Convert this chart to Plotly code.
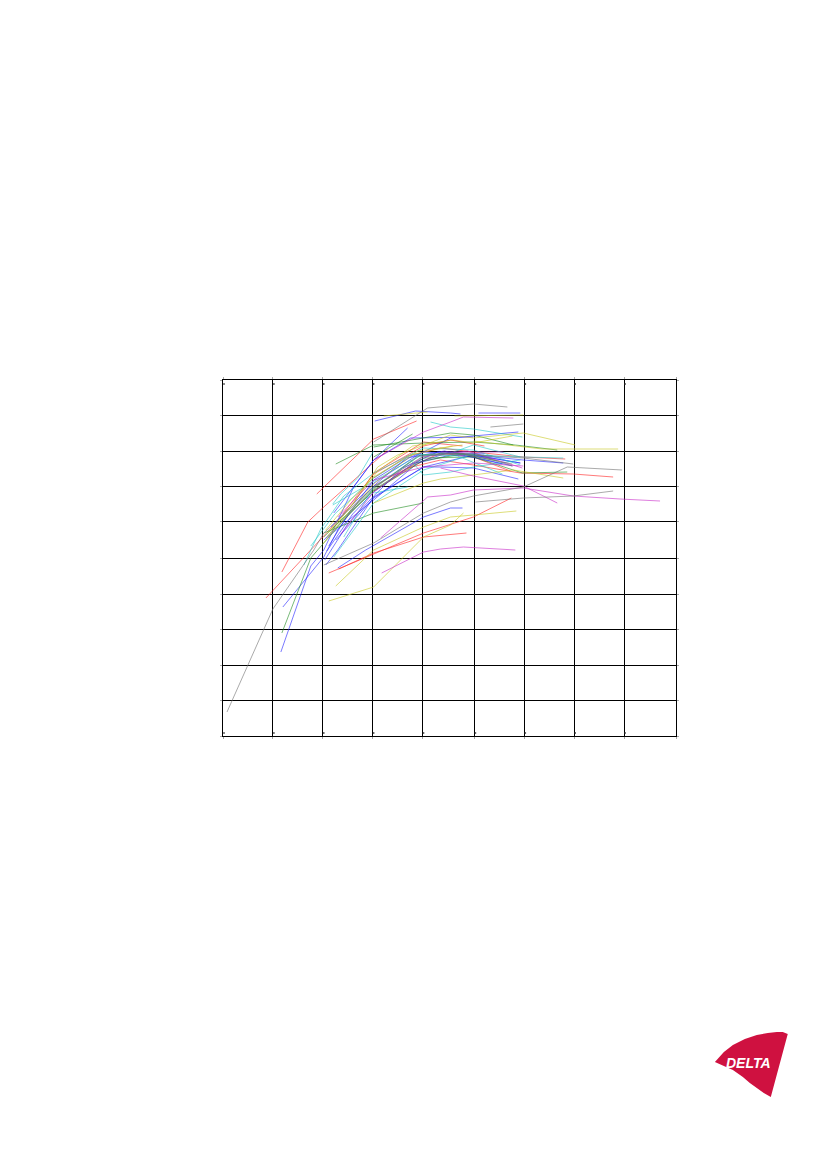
import plotly.graph_objects as go

PAGE_W, PAGE_H = 827, 1169
PAGE_INSET = 8
PLOT_L, PLOT_R, PLOT_T, PLOT_B = 222, 676, 380, 736

X_GRID = [0, 50, 100, 150, 200, 252, 302, 352, 402, 454]
Y_GRID = [0, 36, 71, 107, 142, 178, 215, 250, 285, 321, 356]

RED_X = [[94,151,194],[59,85,101,135,151,165],[43,88,101,131,151,201,240],[106,161,201,251,289],[116,151,201,244],[151,185,218,251,298,351,391],[151,185,218,251,301,343],[151,190,218,251,288],[120,151,201,228,262]]
RED_Y = [[242,297,315],[164,214,229,259,273,286],[138,186,200,233,263,294,290],[163,186,203,219,238],[167,183,199,203],[250,268,276,271,263,262,259],[258,280,288,284,279,277],[245,270,283,279,265],[222,262,290,296,290]]

BLUE_X = [[58,88,101,131,151,185],[60,101,115,151,188,201,251,298],[152,193,228,238],[256,298],[115,143,201,228,240],[103,115,151,201,251,298],[101,151,195,228,251,290],[108,151,195,228,296],[111,151,188,228,251],[113,151,201,218,251,296],[251,301,341],[104,130,151,190,228,270],[102,125,151,180,215,262],[106,128,151,184,222,280]]
BLUE_Y = [[84,170,186,249,276,308],[129,179,206,256,279,284,281,273],[315,325,323,322],[323,323],[168,186,219,228,228],[171,186,239,269,281,273],[196,236,273,281,279,270],[209,253,281,298,304],[223,276,298,299,299],[196,238,269,269,268,257],[281,276,273],[185,222,244,272,284,277],[176,212,240,268,284,282],[190,226,250,278,285,272]]

GREEN_X = [[113,151,201,251,293,335],[59,88,121,151,201,251,300,345],[101,151,201],[151,190],[101,151,198,228,270],[151,201,228,251,291],[110,151,200,240,275]]
GREEN_Y = [[272,291,293,294,291,286],[103,178,216,246,278,279,263,264],[203,223,233],[279,302],[199,248,281,283,280],[289,298,303,301,291],[208,245,275,282,275]]

CYAN_X = [[81,98,121,151,201,251,298],[110,148,188,201,228,251,298],[208,228,251,300],[111,151,201,245],[121,151,195,228,251,298],[218,251,301,341],[151,185],[88,112,151,190,235,280],[110,118,135,151]]
CYAN_Y = [[171,207,240,263,288,286,271],[231,253,276,261,264,269,276],[314,309,307,299],[179,233,266,280],[199,249,279,283,291,279],[283,281,279,278],[243,249],[190,222,258,282,280,262],[232,242,258,285]]

YELLOW_X = [[106,151,188,201,228,241],[113,151,201,228,251,294],[105,131,155,175,228,251,301,353],[151,201,218,251,291,341],[103,128,151,188,230],[161,205],[232,301],[251,320,396],[105,128,155,190,230,251,290],[100,125,151,195,240]]
YELLOW_Y = [[135,149,186,199,211,223],[150,186,209,219,221,225],[203,233,269,281,301,298,303,291],[233,253,257,261,266,258],[206,236,259,281,290],[320,324],[320,321],[295,287,287],[200,230,265,290,296,293,300],[192,222,252,285,291]]

MAGENTA_X = [[158,205,228,251,301,351,398,438],[159,201,218,241,293],[151,201,228,241,291],[218,251,301,335],[115,151,201,228,251,301],[218,281],[118,151,200,245,300]]
MAGENTA_Y = [[198,239,241,246,248,240,237,235],[163,184,187,189,186],[276,304,314,319,318],[268,260,250,233],[219,256,269,271,273,270],[284,284],[202,244,279,285,268]]

GRAY_X = [[4,50,91,101,151,201,251,290],[151,205,228,251,285],[101,151,201,228,251,301,345,400],[253,301,351,391],[268,301],[218,251,301,351],[103,132,151,195,235,290]]
GRAY_Y = [[24,127,186,203,249,280,283,270],[294,328,330,332,329],[171,193,223,234,240,249,269,266],[234,238,240,245],[309,312],[283,281,278,272],[198,228,247,280,283,272]]

SERIES = [
    ("#ff2020", RED_X, RED_Y),
    ("#2020ff", BLUE_X, BLUE_Y),
    ("#1e8c1e", GREEN_X, GREEN_Y),
    ("#20c8c8", CYAN_X, CYAN_Y),
    ("#c8c820", YELLOW_X, YELLOW_Y),
    ("#c828c8", MAGENTA_X, MAGENTA_Y),
    ("#707070", GRAY_X, GRAY_Y),
]

# Small dots just inside the frame, next to each vertical grid line
DOT_X = [1, 51, 101, 151, 201, 253, 303, 353, 403]
DOT_Y_LOW = [3] * 9
DOT_Y_HIGH = [352] * 9

# DELTA logo outline, in page pixels
LOGO_X = [715, 724, 733, 745, 757, 768, 777, 783, 788, 771, 764, 757, 750, 743, 733, 724, 715]
LOGO_Y = [1062, 1052, 1045, 1039, 1035, 1033, 1032, 1032, 1034, 1097, 1093, 1088, 1083, 1077, 1070, 1066, 1062]

fig = go.Figure()
for colour, xs, ys in SERIES:
    for lx, ly in zip(xs, ys):
        fig.add_trace(go.Scatter(x=lx, y=ly, mode="lines",
                                 line=dict(color=colour, width=0.6),
                                 showlegend=False, hoverinfo="skip"))
for dot_y in (DOT_Y_LOW, DOT_Y_HIGH):
    fig.add_trace(go.Scatter(x=DOT_X, y=dot_y, mode="markers",
                             marker=dict(color="#333333", size=1.5, symbol="square"),
                             showlegend=False, hoverinfo="skip"))

axis = dict(showline=True, linecolor="black", linewidth=1.3, mirror="ticks",
            showgrid=True, gridcolor="black", gridwidth=1.3, zeroline=False,
            ticks="outside", ticklen=2, tickcolor="#aaaaaa", tickwidth=1,
            showticklabels=False)
fig.update_xaxes(range=[0, PLOT_R - PLOT_L], tickvals=X_GRID, **axis)
fig.update_yaxes(range=[0, PLOT_B - PLOT_T], tickvals=Y_GRID, **axis)

W = PLOT_R - PLOT_L
H = PLOT_B - PLOT_T
def px(v): return (v - PLOT_L) / W
def py(v): return (PLOT_B - v) / H
path = "M " + " L ".join(f"{px(a):.4f},{py(b):.4f}" for a, b in zip(LOGO_X, LOGO_Y)) + " Z"
fig.add_shape(type="path", path=path, xref="paper", yref="paper",
              fillcolor="#cf1140", line=dict(width=0))
fig.add_annotation(x=px(748.5), y=py(1063), xref="paper", yref="paper", xanchor="center", yanchor="middle",
                   text="<b><i>DELTA</i></b>", showarrow=False,
                   font=dict(family="Liberation Sans", size=14, color="white"))

fig.update_layout(width=PAGE_W - PAGE_INSET, height=PAGE_H - PAGE_INSET, autosize=False,
                  margin=dict(l=PLOT_L - PAGE_INSET + 0.5, r=PAGE_W - PLOT_R, t=PLOT_T - PAGE_INSET, b=PAGE_H - PLOT_B),
                  paper_bgcolor="white", plot_bgcolor="white")
fig.write_html("out.html")
